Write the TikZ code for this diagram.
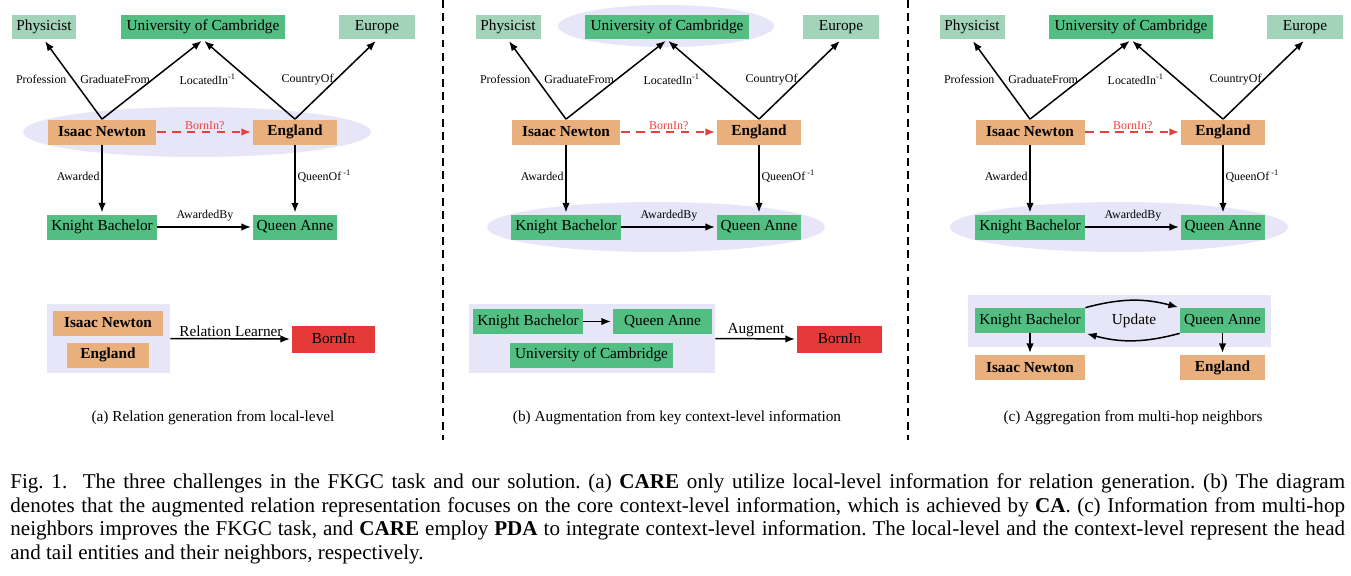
\documentclass[tikz,border=0pt]{standalone}
\usepackage{fontspec}
\setmainfont{Liberation Serif}
\usetikzlibrary{arrows.meta}
\definecolor{lav}{RGB}{230,230,248}
\definecolor{kgreen}{RGB}{82,190,130}
\definecolor{lgreen}{RGB}{163,212,186}
\definecolor{korange}{RGB}{233,175,125}
\definecolor{kred}{RGB}{229,58,55}
\definecolor{qred}{RGB}{232,64,64}

\begin{document}
\begin{tikzpicture}[
x=0.02cm, y=-0.02cm,
entnode/.style={rectangle, minimum height=0.5cm, inner sep=0pt, font=\fontsize{8.7}{10}\selectfont},
grnnode/.style={entnode, fill=kgreen},
lgrnnode/.style={entnode, fill=lgreen},
orgnode/.style={entnode, fill=korange, font=\fontsize{8.7}{10}\selectfont\bfseries},
rednode/.style={entnode, fill=kred, minimum height=0.54cm},
bgnode/.style={rectangle, fill=lav, inner sep=0pt},
relnode/.style={font=\fontsize{6.8}{8}\selectfont, inner sep=1pt},
txtnode/.style={font=\fontsize{8.7}{10}\selectfont, inner sep=1pt},
arr/.style={-{Latex[length=1.9mm,width=1.5mm]}, line width=0.85pt, shorten >=1pt},
qarr/.style={arr, qred, dash pattern=on 5pt off 3.5pt},
]
\useasboundingbox (0,0) rectangle (1351,575);

%Background
\fill[lav] (197,132) ellipse [x radius=3.48cm, y radius=0.5cm];
\fill[lav] (666,26) ellipse [x radius=2.16cm, y radius=0.42cm];
\fill[lav] (656,227) ellipse [x radius=3.38cm, y radius=0.5cm];
\fill[lav] (1119,227) ellipse [x radius=3.38cm, y radius=0.5cm];
\draw[line width=0.7pt, dash pattern=on 4.5pt off 3pt] (443,0) -- (443,440);
\draw[line width=0.7pt, dash pattern=on 4.5pt off 3pt] (908,0) -- (908,440);

%Nodes (a)
\node[lgrnnode, minimum width=1.3cm] (physa) at (44,27) {Physicist};
\node[grnnode, minimum width=3.28cm] (unia) at (203,27) {University of Cambridge};
\node[lgrnnode, minimum width=1.52cm] (eura) at (377,27) {Europe};
\node[orgnode, minimum width=2.18cm] (newa) at (102,132) {Isaac Newton};
\node[orgnode, minimum width=1.68cm] (enga) at (295,132) {England};
\node[grnnode, minimum width=2.2cm] (knia) at (102,227) {Knight Bachelor};
\node[grnnode, minimum width=1.68cm] (quea) at (295,227) {Queen Anne};

\draw[arr] (newa.north) -- node[relnode, left, xshift=-2.3pt] {Profession} (physa.south);
\draw[arr] (newa.north) -- node[relnode, left] {GraduateFrom} (unia.south);
\draw[arr] (enga.north) -- node[relnode, left, xshift=-6pt] {LocatedIn\textsuperscript{-1}} (unia.south);
\draw[arr] (enga.north) -- node[relnode, left] {CountryOf} (eura.south);
\draw[qarr] (newa.east) -- node[relnode, above, text=qred] {BornIn?} (enga.west);
\draw[arr] (newa.south) -- node[relnode, left, pos=0.45] {Awarded} (knia.north);
\draw[arr] (enga.south) -- node[relnode, right, pos=0.45] {QueenOf\,\textsuperscript{-1}} (quea.north);
\draw[arr] (knia.east) -- node[relnode, above=2pt] {AwardedBy} (quea.west);

\node[bgnode, minimum width=2.46cm, minimum height=1.38cm] (boxa) at (108.5,338.5) {};
\node[orgnode, minimum width=2.2cm] (newla) at (108,323) {Isaac Newton};
\node[orgnode, minimum width=1.66cm] (engla) at (108,355) {England};
\node[rednode, minimum width=1.66cm] (borna) at (333.5,339) {BornIn};
\draw[arr] (boxa.east) -- node[txtnode, above, inner sep=0.5pt] {Relation Learner} (borna.west);
\node[txtnode] (capa) at (213,418) {(a) Relation generation from local-level};

%Nodes (b)
\node[lgrnnode, minimum width=1.3cm] (physb) at (508,27) {Physicist};
\node[grnnode, minimum width=3.28cm] (unib) at (667,27) {University of Cambridge};
\node[lgrnnode, minimum width=1.52cm] (eurb) at (841,27) {Europe};
\node[orgnode, minimum width=2.18cm] (newb) at (566,132) {Isaac Newton};
\node[orgnode, minimum width=1.68cm] (engb) at (759,132) {England};
\node[grnnode, minimum width=2.2cm] (knib) at (566,227) {Knight Bachelor};
\node[grnnode, minimum width=1.68cm] (queb) at (759,227) {Queen Anne};

\draw[arr] (newb.north) -- node[relnode, left, xshift=-2.3pt] {Profession} (physb.south);
\draw[arr] (newb.north) -- node[relnode, left] {GraduateFrom} (unib.south);
\draw[arr] (engb.north) -- node[relnode, left, xshift=-6pt] {LocatedIn\textsuperscript{-1}} (unib.south);
\draw[arr] (engb.north) -- node[relnode, left] {CountryOf} (eurb.south);
\draw[qarr] (newb.east) -- node[relnode, above, text=qred] {BornIn?} (engb.west);
\draw[arr] (newb.south) -- node[relnode, left, pos=0.45] {Awarded} (knib.north);
\draw[arr] (engb.south) -- node[relnode, right, pos=0.45] {QueenOf\,\textsuperscript{-1}} (queb.north);
\draw[arr] (knib.east) -- node[relnode, above=2pt] {AwardedBy} (queb.west);

\node[bgnode, minimum width=4.92cm, minimum height=1.38cm] (boxb) at (592,338.5) {};
\node[grnnode, minimum width=2.2cm] (knilb) at (528,321.5) {Knight Bachelor};
\node[grnnode, minimum width=1.98cm] (quelb) at (662.5,321.5) {Queen Anne};
\node[grnnode, minimum width=3.26cm] (unilb) at (591.5,355) {University of Cambridge};
\node[rednode, minimum width=1.7cm] (bornb) at (839.5,339) {BornIn};
\draw[arr] (knilb) -- (quelb);
\draw[arr] (boxb.east) -- node[txtnode, above, inner sep=0.5pt] {Augment} (bornb.west);
\node[txtnode] (capb) at (677,418) {(b) Augmentation from key context-level information};

%Nodes (c)
\node[lgrnnode, minimum width=1.3cm] (physc) at (972,27) {Physicist};
\node[grnnode, minimum width=3.28cm] (unic) at (1131,27) {University of Cambridge};
\node[lgrnnode, minimum width=1.52cm] (eurc) at (1305,27) {Europe};
\node[orgnode, minimum width=2.18cm] (newc) at (1030,132) {Isaac Newton};
\node[orgnode, minimum width=1.68cm] (engc) at (1223,132) {England};
\node[grnnode, minimum width=2.2cm] (knic) at (1030,227) {Knight Bachelor};
\node[grnnode, minimum width=1.68cm] (quec) at (1223,227) {Queen Anne};

\draw[arr] (newc.north) -- node[relnode, left, xshift=-2.3pt] {Profession} (physc.south);
\draw[arr] (newc.north) -- node[relnode, left] {GraduateFrom} (unic.south);
\draw[arr] (engc.north) -- node[relnode, left, xshift=-6pt] {LocatedIn\textsuperscript{-1}} (unic.south);
\draw[arr] (engc.north) -- node[relnode, left] {CountryOf} (eurc.south);
\draw[qarr] (newc.east) -- node[relnode, above, text=qred] {BornIn?} (engc.west);
\draw[arr] (newc.south) -- node[relnode, left, pos=0.45] {Awarded} (knic.north);
\draw[arr] (engc.south) -- node[relnode, right, pos=0.45] {QueenOf\,\textsuperscript{-1}} (quec.north);
\draw[arr] (knic.east) -- node[relnode, above=2pt] {AwardedBy} (quec.west);

\node[bgnode, minimum width=6.06cm, minimum height=1.04cm] (boxc) at (1119.5,321) {};
\node[grnnode, minimum width=2.2cm] (knilc) at (1030,320.5) {Knight Bachelor};
\node[grnnode, minimum width=1.7cm] (quelc) at (1222.5,320.5) {Queen Anne};
\node[orgnode, minimum width=2.2cm] (newlc) at (1030,367.5) {Isaac Newton};
\node[orgnode, minimum width=1.7cm] (englc) at (1222.5,367.5) {England};
\node[txtnode] (updc) at (1134,321) {Update};
\draw[arr] (knilc.north east) to[bend left=15] (quelc.north west);
\draw[arr] (quelc.south west) to[bend left=15] (knilc.south east);
\draw[arr] (knilc) -- (newlc);
\draw[arr] (quelc) -- (englc);
\node[txtnode] (capc) at (1133,418) {(c) Aggregation from multi-hop neighbors};

%Caption
\node[anchor=north west, inner sep=0pt, text width=26.7cm, align=justify,
  font=\fontsize{12}{13.6}\selectfont] (figcap) at (10,473)
  {\frenchspacing\hyphenpenalty=10000 Fig.~1.\ \ The three challenges in the FKGC task and our solution. (a) \textbf{CARE} only utilize local-level information for relation generation. (b) The diagram\linebreak
  denotes that the augmented relation representation focuses on the core context-level information, which is achieved by \textbf{CA}. (c) Information from multi-hop\linebreak
  neighbors improves the FKGC task, and \textbf{CARE} employ \textbf{PDA} to integrate context-level information. The local-level and the context-level represent the head\linebreak
  and tail entities and their neighbors, respectively.};
\end{tikzpicture}
\end{document}
